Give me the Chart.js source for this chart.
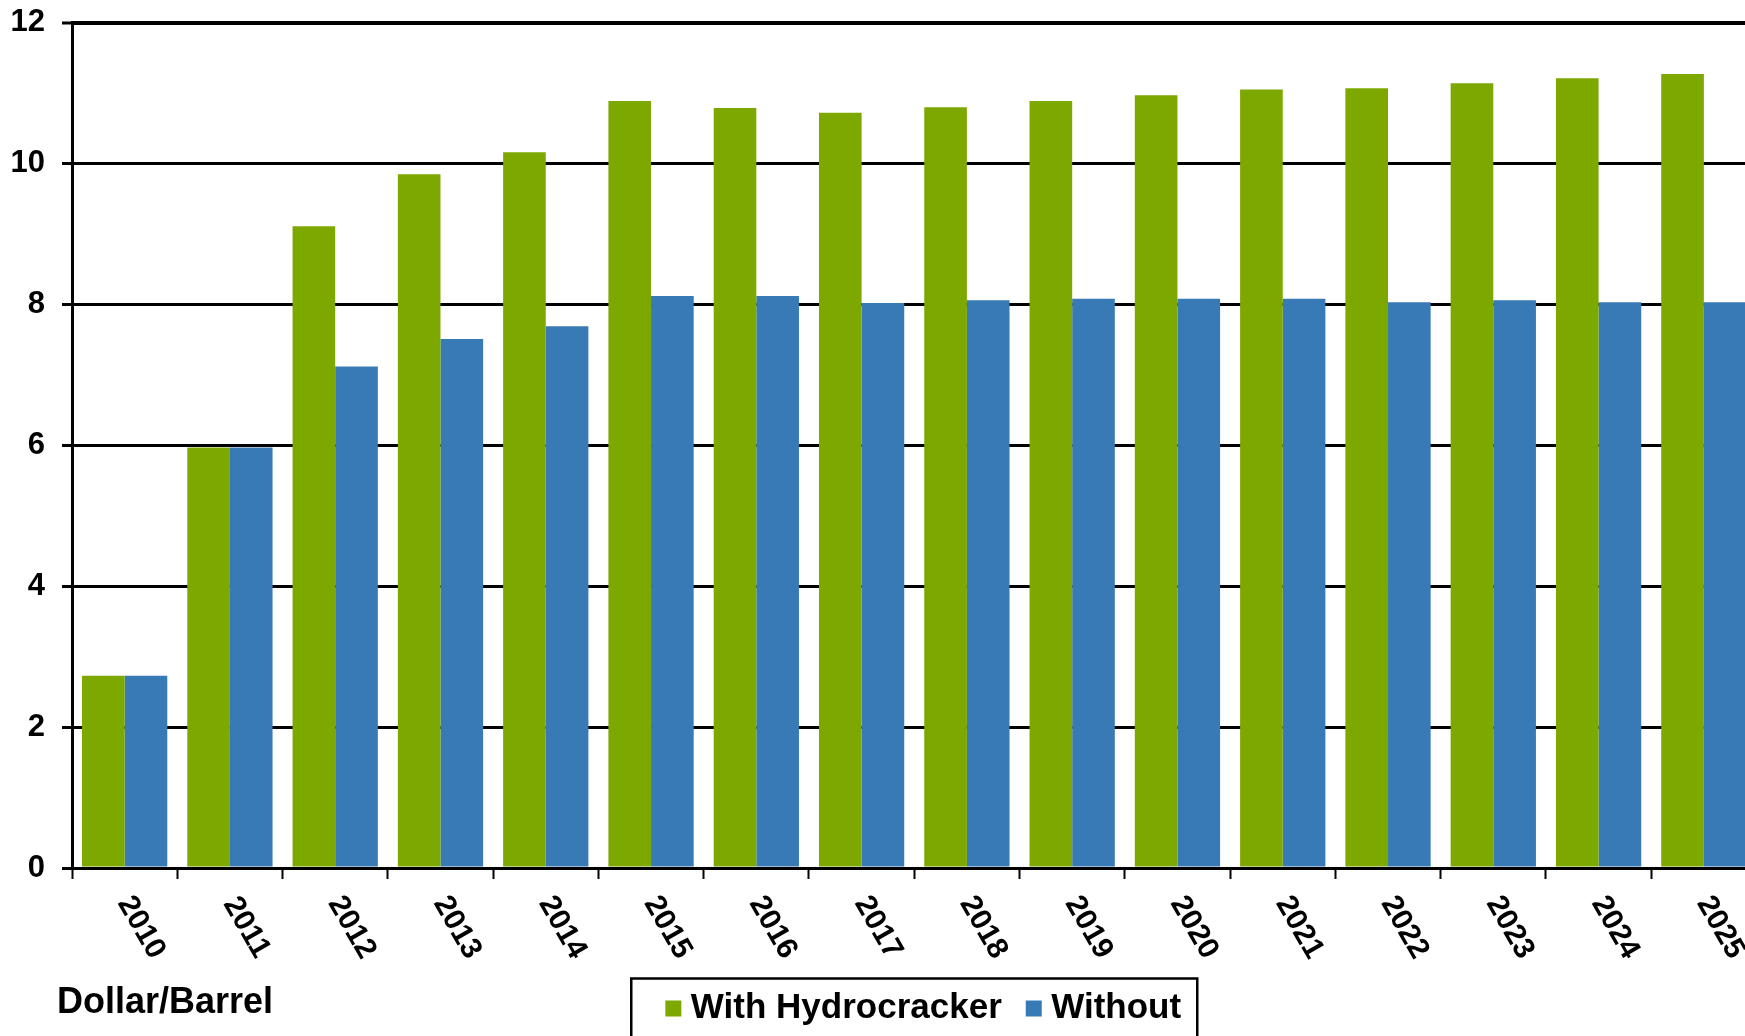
<!DOCTYPE html>
<html>
<head>
<meta charset="utf-8">
<script src="https://cdn.jsdelivr.net/npm/chart.js@4.4.1/dist/chart.umd.min.js"></script>
<style>
html, body { margin: 0; padding: 0; background: #fff; overflow: hidden; }
#wrap { width: 1745px; height: 1036px; overflow: hidden; }
</style>
</head>
<body>
<div id="wrap"><canvas id="chart" width="1760" height="1036"></canvas></div>
<script>
const years = ['2010', '2011', '2012', '2013', '2014', '2015', '2016', '2017',
               '2018', '2019', '2020', '2021', '2022', '2023', '2024', '2025'];
const withHydrocracker = [2.73, 5.97, 9.11, 9.85, 10.16, 10.89, 10.79, 10.72,
                          10.80, 10.89, 10.97, 11.05, 11.07, 11.14, 11.21, 11.27];
const without = [2.73, 5.97, 7.12, 7.51, 7.69, 8.12, 8.12, 8.02,
                 8.06, 8.08, 8.08, 8.08, 8.03, 8.06, 8.03, 8.03];
const yMin = 0, yMax = 12, yStep = 2;
const unitLabel = 'Dollar/Barrel';

const FONT = '"Liberation Sans", Arial, sans-serif';

// year labels (rotated clockwise), unit text and legend frame
const extras = {
  id: 'extras',
  afterLayout(chart) {
    chart.legend.left += 13;
    chart.legend.right += 13;
  },
  afterDraw(chart) {
    const ctx = chart.ctx;
    const x = chart.scales.x;
    const area = chart.chartArea;
    ctx.save();
    ctx.fillStyle = '#000';
    ctx.font = 'bold 30px ' + FONT;
    ctx.textAlign = 'center';
    ctx.textBaseline = 'middle';
    years.forEach((y, i) => {
      ctx.save();
      ctx.translate(x.getPixelForValue(i) + 16.5, area.bottom + 59.5);
      ctx.rotate(Math.PI / 3);
      ctx.fillText(y, 0, 0);
      ctx.restore();
    });

    ctx.font = 'bold 36px ' + FONT;
    ctx.textAlign = 'left';
    ctx.textBaseline = 'alphabetic';
    ctx.fillText(unitLabel, 57, 1013);

    const lg = chart.legend;
    const cx = (area.left + area.right) / 2;
    const top = lg.top + lg.options.labels.padding + 17.5 - 30;
    ctx.lineWidth = 2.5;
    ctx.strokeStyle = '#000';
    ctx.strokeRect(cx - 283, top, 566, 200);
    ctx.restore();
  }
};

new Chart(document.getElementById('chart'), {
  type: 'bar',
  data: {
    labels: years,
    datasets: [
      { label: 'With Hydrocracker', data: withHydrocracker, backgroundColor: '#7DA800', borderWidth: 0 },
      { label: 'Without', data: without, backgroundColor: '#387AB6', borderWidth: 0 }
    ]
  },
  options: {
    responsive: false,
    animation: false,
    categoryPercentage: 0.81,
    barPercentage: 1.0,
    layout: { padding: { left: 0, right: 3.5, top: 22.7, bottom: 0 } },
    plugins: {
      tooltip: { enabled: false },
      legend: {
        position: 'bottom',
        fullSize: false,
        labels: {
          usePointStyle: true,
          pointStyle: 'rect',
          boxWidth: 0.01,
          boxHeight: 16,
          padding: 32,
          color: '#000',
          font: { family: FONT, size: 35, weight: 'bold' }
        }
      }
    },
    scales: {
      x: {
        z: 1,
        afterFit: (s) => { s.height = 91; },
        ticks: { display: false },
        grid: {
          offset: true,
          drawOnChartArea: false,
          drawTicks: true,
          tickLength: 11,
          tickWidth: 2,
          tickColor: '#000'
        },
        border: { color: '#000', width: 3 }
      },
      y: {
        min: yMin,
        max: yMax,
        afterFit: (s) => { s.width = 72; s.paddingTop = 0; s.paddingBottom = 0; },
        ticks: {
          stepSize: yStep,
          padding: 17,
          color: '#000',
          font: { family: FONT, size: 31, weight: 'bold' }
        },
        grid: {
          color: '#000',
          lineWidth: (c) => (c.tick && c.tick.value === yMax ? 4 : 3),
          tickLength: 10,
          tickWidth: 3,
          tickColor: '#000'
        },
        border: { color: '#000', width: 3 }
      }
    }
  },
  plugins: [extras]
});
</script>
</body>
</html>
